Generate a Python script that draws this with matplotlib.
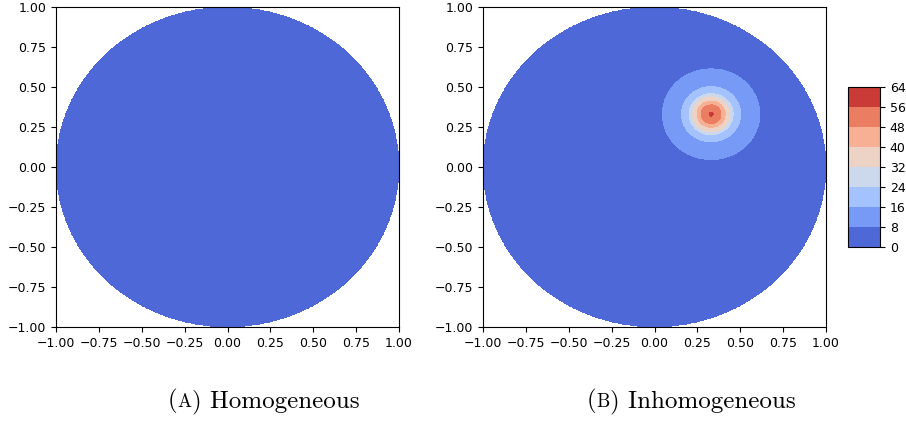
import matplotlib
matplotlib.use("Agg")
import matplotlib.pyplot as plt
import numpy as np

# contour levels shown on the colorbar
levels = np.arange(0, 65, 8)

# homogeneous case: one constant value on the disk
homog_value = 1.0

# inhomogeneous case: radial profile
bump_center = (0.33, 0.33)
bump_r = [0.0, 0.012, 0.058, 0.082, 0.108, 0.128, 0.172, 0.283, 0.6, 2.0]
bump_v = [58.0, 56.0, 48.0, 40.0, 32.0, 24.0, 16.0, 8.0, 3.0, 1.0]

captions = [("(", "A", ") Homogeneous"), ("(", "B", ") Inhomogeneous")]
caption_x = [168 / 906, 587 / 906]

n = 801
x = np.linspace(-1, 1, n)
X, Y = np.meshgrid(x, x)
inside = X**2 + Y**2 <= 1.0

Z1 = np.full(X.shape, homog_value)
Z1[~inside] = np.nan

R = np.hypot(X - bump_center[0], Y - bump_center[1])
Z2 = np.interp(R, bump_r, bump_v)
Z2[~inside] = np.nan

fig = plt.figure(figsize=(9.06, 4.21), dpi=100)
ax1 = fig.add_axes([56 / 906, 94 / 421, 343 / 906, 320 / 421])
ax2 = fig.add_axes([483 / 906, 94 / 421, 343 / 906, 320 / 421])
cax = fig.add_axes([848 / 906, 174 / 421, 32 / 906, 160 / 421])

ax1.contourf(X, Y, Z1, levels=levels, cmap="coolwarm")
cs = ax2.contourf(X, Y, Z2, levels=levels, cmap="coolwarm")
fig.colorbar(cs, cax=cax, ticks=levels)
cax.tick_params(labelsize=9)

ticks = np.arange(-1, 1.01, 0.25)
for ax in (ax1, ax2):
    ax.set_xlim(-1, 1)
    ax.set_ylim(-1, 1)
    ax.set_xticks(ticks)
    ax.set_yticks(ticks)
    ax.tick_params(labelsize=9)

# captions with small-caps letter, in a Computer Modern style font
yb = 14 / 421
for (a, b, c), xs in zip(captions, caption_x):
    t1 = fig.text(xs, yb, a, family="cmr10", fontsize=18, va="baseline")
    t2 = fig.add_artist(plt.Annotation(b, xy=(1, yb), xycoords=(t1, "figure fraction"),
                                       family="cmr10", fontsize=13.5, va="baseline"))
    fig.add_artist(plt.Annotation(c, xy=(1, yb), xycoords=(t2, "figure fraction"),
                                  family="cmr10", fontsize=18, va="baseline"))

fig.savefig("out.png", dpi=100)
